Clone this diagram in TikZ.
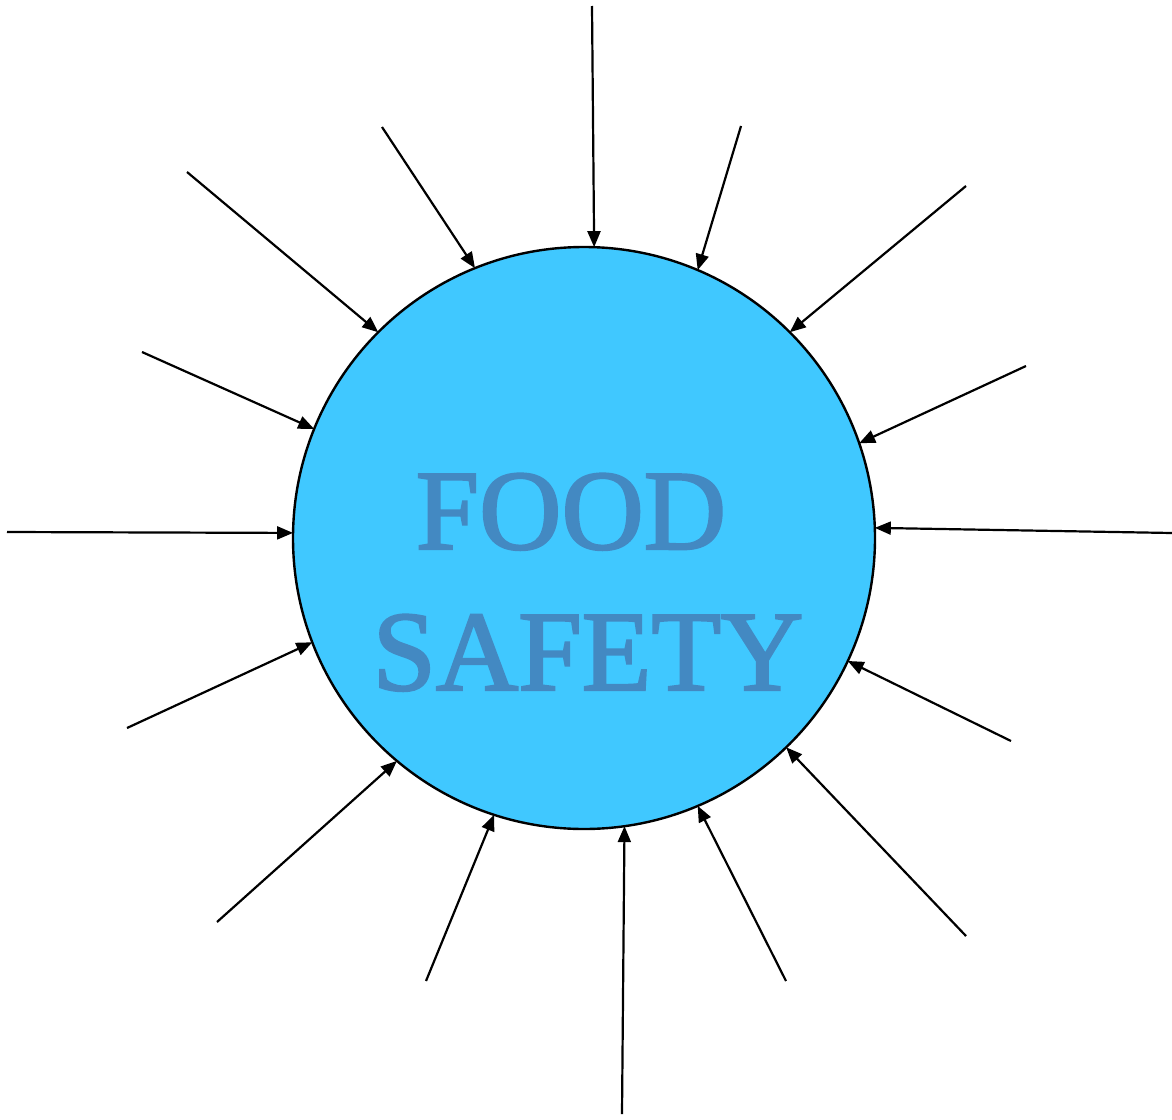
\documentclass[tikz,border=0pt]{standalone}
\usepackage{fontspec}
\setmainfont{Liberation Serif}
\newfontfamily\heavyserif[FakeBold=2]{Liberation Serif}
\usepackage{xcolor}
\usetikzlibrary{arrows.meta, positioning}

\definecolor{discblue}{HTML}{40C8FF}
\definecolor{textblue}{HTML}{4389C2}

\begin{document}
\begin{tikzpicture}[
  x=0.5pt, y=-0.5pt,
  disc/.style={draw, circle, line width=1.2pt, fill=discblue, minimum size=291pt, inner sep=0pt, outer sep=0pt},
  word/.style={anchor=base, text=textblue, font=\heavyserif\fontsize{57}{60}\selectfont, inner sep=0pt},
  feed/.style={line width=1.1pt, -{Triangle[length=8pt, width=6.5pt]}},
]
\useasboundingbox (0,0) rectangle (1172,1119);
\node[disc] (food) at (584,538) {};
\node[word] (foodword) at (571,549) {FOOD};
\node[word] (safetyword) at (588,690) {SAFETY};

\coordinate (top) at (592,6);
\coordinate (topr) at (741,126);
\coordinate (ner) at (966,186);
\coordinate (ene) at (1026,366);
\coordinate (east) at (1172,533);
\coordinate (ese) at (1011,741);
\coordinate (ser) at (966,936);
\coordinate (sse) at (786,981);
\coordinate (bot) at (622,1114);
\coordinate (ssw) at (426,981);
\coordinate (swr) at (217,922);
\coordinate (wsw) at (127,728);
\coordinate (west) at (7,532);
\coordinate (wnw) at (142,352);
\coordinate (nwr) at (187,172);
\coordinate (nnw) at (382,127);

\draw[feed] (top) -- (food.88.4);
\draw[feed] (topr) -- (food.67.6);
\draw[feed] (ner) -- (food.45.3);
\draw[feed] (ene) -- (food.19.9);
\draw[feed] (east) -- (food.2.1);
\draw[feed] (ese) -- (food.-25.3);
\draw[feed] (ser) -- (food.-46.5);
\draw[feed] (sse) -- (food.-67.8);
\draw[feed] (bot) -- (food.-82.5);
\draw[feed] (ssw) -- (food.-108.9);
\draw[feed] (swr) -- (food.-130.6);
\draw[feed] (wsw) -- (food.-159.7);
\draw[feed] (west) -- (food.179);
\draw[feed] (wnw) -- (food.158.9);
\draw[feed] (nwr) -- (food.135.1);
\draw[feed] (nnw) -- (food.112.5);
\end{tikzpicture}
\end{document}
